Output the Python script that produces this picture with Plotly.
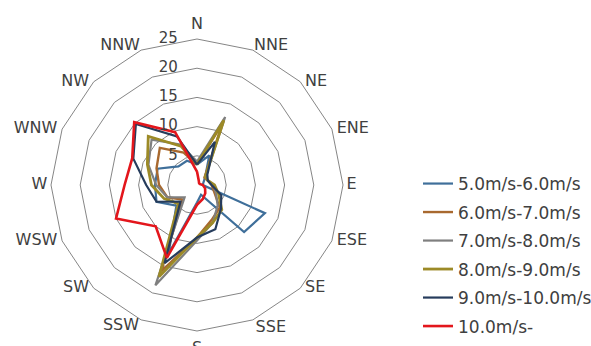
import plotly.graph_objects as go

# Wind direction sectors (clockwise from north)
directions = ["N", "NNE", "NE", "ENE", "E", "ESE", "SE", "SSE",
              "S", "SSW", "SW", "WSW", "W", "WNW", "NW", "NNW"]

# Frequency (%) per direction for each wind-speed class
speed_5_6 = [3.5, 5.5, 2.0, 1.2, 1.0, 12.6, 11.4, 1.8, 3.0, 12.7, 5.0, 7.5, 7.2, 7.3, 4.5, 4.5]
speed_6_7 = [3.5, 11.5, 1.8, 2.0, 2.5, 3.2, 5.5, 6.5, 9.0, 16.0, 3.5, 5.5, 6.5, 7.5, 9.0, 6.0]
speed_7_8 = [4.0, 12.6, 2.0, 2.0, 2.8, 3.5, 5.0, 7.0, 9.5, 18.6, 3.0, 5.5, 7.0, 9.0, 11.0, 7.5]
speed_8_9 = [3.5, 12.0, 2.0, 2.0, 3.0, 4.0, 6.0, 7.0, 9.0, 17.0, 4.5, 6.1, 7.8, 9.2, 11.8, 7.2]
speed_9_10 = [3.5, 8.0, 2.5, 2.0, 2.5, 4.5, 5.8, 8.2, 9.0, 14.5, 4.0, 7.5, 8.7, 11.8, 14.8, 9.0]
speed_10_up = [2.3, 0.8, 0.5, 0.5, 1.0, 1.5, 2.0, 2.6, 3.4, 13.5, 10.0, 15.0, 12.4, 12.0, 15.2, 9.8]

series_names = ["5.0m/s-6.0m/s", "6.0m/s-7.0m/s", "7.0m/s-8.0m/s",
                "8.0m/s-9.0m/s", "9.0m/s-10.0m/s", "10.0m/s-"]
series_values = [speed_5_6, speed_6_7, speed_7_8, speed_8_9, speed_9_10, speed_10_up]
series_colors = ["#3f6f9a", "#a8692f", "#7f7f7f", "#9c8a27", "#263c5c", "#e3161c"]
series_widths = [2.2, 2.4, 2.2, 2.8, 2.2, 2.6]

radial_ticks = [0, 5, 10, 15, 20, 25]
r_max = 25

fig = go.Figure()
for name, vals, color, width in zip(series_names, series_values, series_colors, series_widths):
    fig.add_trace(go.Scatterpolar(
        r=vals + vals[:1],
        theta=directions + directions[:1],
        mode="lines",
        name=name,
        legendgroup=name,
        line=dict(color=color, width=width),
    ))

# Direction labels around the outer ring; anchor, radius and an invisible
# marker (whose size sets the gap) place each name beside its vertex
label_style = {
    "N": ("top center", 25.0, 8), "NNE": ("top right", 23.4, 6),
    "NE": ("middle right", 25.0, 6), "ENE": ("middle right", 25.0, 6),
    "E": ("middle right", 24.8, 6), "ESE": ("middle right", 25.0, 6),
    "SE": ("middle right", 25.0, 6), "SSE": ("bottom right", 24.1, 6),
    "S": ("bottom center", 25.0, 14), "SSW": ("bottom left", 23.8, 6),
    "SW": ("middle left", 25.0, 6), "WSW": ("middle left", 25.0, 6),
    "W": ("middle left", 24.8, 6), "WNW": ("middle left", 25.0, 6),
    "NW": ("middle left", 25.0, 6), "NNW": ("top left", 23.4, 6),
}
fig.add_trace(go.Scatterpolar(
    r=[label_style[d][1] for d in directions],
    theta=directions,
    mode="markers+text",
    text=directions,
    textposition=[label_style[d][0] for d in directions],
    marker=dict(size=[label_style[d][2] for d in directions], color="rgba(0,0,0,0)"),
    textfont=dict(family="DejaVu Sans", size=16, color="#404040"),
    cliponaxis=False,
    showlegend=False,
    hoverinfo="skip",
))

# Radial scale labels along the north spoke, to its left
fig.add_trace(go.Scatterpolar(
    r=radial_ticks,
    theta=["N"] * len(radial_ticks),
    mode="markers+text",
    text=[str(v) for v in radial_ticks],
    textposition="middle left",
    marker=dict(size=29, color="rgba(0,0,0,0)"),
    textfont=dict(family="DejaVu Sans", size=15, color="#404040"),
    cliponaxis=False,
    showlegend=False,
    hoverinfo="skip",
))

W, H = 591, 346
cx, cy, R = 197, 185, 146

fig.update_layout(
    width=W, height=H,
    margin=dict(l=0, r=0, t=0, b=0, autoexpand=False),
    paper_bgcolor="white",
    plot_bgcolor="white",
    font=dict(family="DejaVu Sans", color="#404040"),
    polar=dict(
        domain=dict(x=[(cx - R) / W, (cx + R) / W],
                    y=[(H - cy - R) / H, (H - cy + R) / H]),
        bgcolor="white",
        gridshape="linear",
        angularaxis=dict(
            rotation=90,
            direction="clockwise",
            categoryorder="array",
            categoryarray=directions,
            showgrid=False,
            showline=True,
            linecolor="#868686",
            linewidth=1,
            ticks="",
            showticklabels=False,
        ),
        radialaxis=dict(
            range=[0, r_max],
            autorange=False,
            tickvals=radial_ticks,
            showline=False,
            showgrid=True,
            gridcolor="#868686",
            gridwidth=1,
            ticks="",
            angle=90,
            showticklabels=False,
        ),
    ),
    showlegend=True,
    legend=dict(
        x=418 / W, y=1 - 166 / H,
        xanchor="left", yanchor="top",
        font=dict(size=17, color="#404040"),
        tracegroupgap=3.4,
        bgcolor="rgba(0,0,0,0)",
    ),
)

fig.write_html("out.html")
